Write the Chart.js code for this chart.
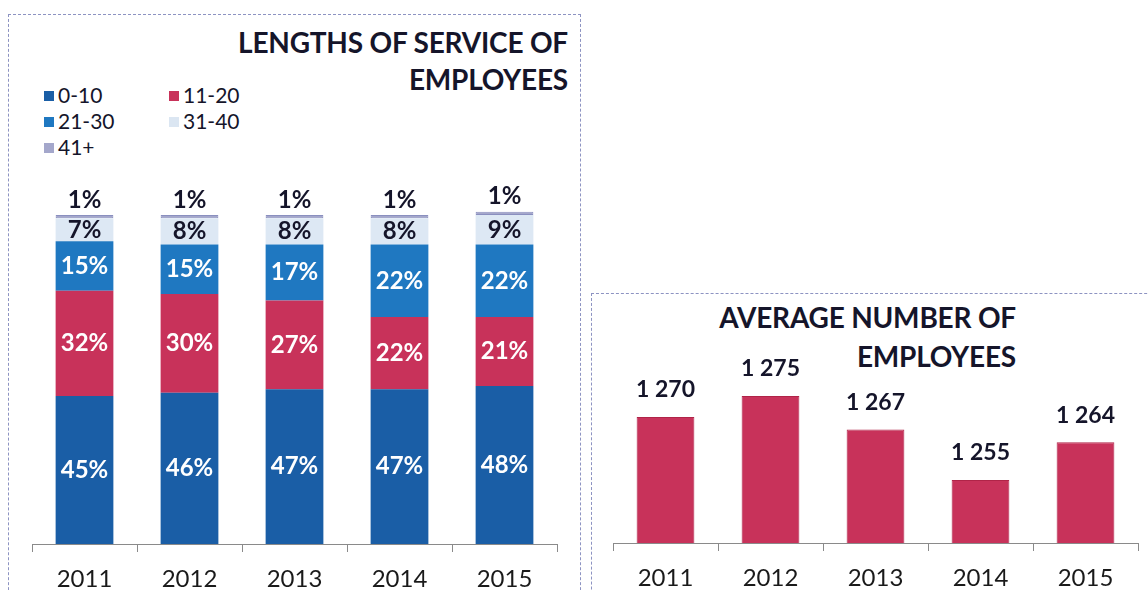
<!DOCTYPE html>
<html><head><meta charset="utf-8">
<script src="https://cdn.jsdelivr.net/npm/chart.js@4.4.0/dist/chart.umd.min.js"></script>
<style>
html,body{margin:0;padding:0;background:#fff;width:1148px;height:590px;overflow:hidden;font-family:Lato,sans-serif;}
.box{position:absolute;border-left:1px dashed #8d93c2;border-top:1px dashed #8d93c2;}
#boxL{left:8px;top:14px;width:571px;height:620px;border-right:1px dashed #8d93c2;}
#boxR{left:591px;top:293px;width:600px;height:400px;}
.title{position:absolute;font-weight:700;font-size:28px;color:#15152a;text-align:right;white-space:nowrap;letter-spacing:-0.2px;}
#titleL{right:580px;top:24px;line-height:37px;}
#titleR{right:132px;top:298px;line-height:39px;}
#legend{position:absolute;left:0;top:0;}
.li{position:absolute;font-size:21px;color:#15152a;line-height:24px;white-space:nowrap;}
.li span{display:inline-block;width:10px;height:10px;margin-right:4px;vertical-align:middle;position:relative;top:-2px;}
canvas{position:absolute;}
#cL{left:0;top:0;}
#cR{left:590px;top:290px;}
</style></head>
<body>
<div class="box" id="boxL"></div>
<div class="box" id="boxR"></div>
<div class="title" id="titleL">LENGTHS OF SERVICE OF<br>EMPLOYEES</div>
<div class="title" id="titleR">AVERAGE NUMBER OF<br>EMPLOYEES</div>
<div id="legend"></div>
<canvas id="cL" width="590" height="590"></canvas>
<canvas id="cR" width="558" height="300"></canvas>
<script>
// ---- data ----
const years = ['2011','2012','2013','2014','2015'];
const seriesLabels = ['0-10','11-20','21-30','31-40','41+'];
const s0_10  = [45,46,47,47,48];
const s11_20 = [32,30,27,22,21];
const s21_30 = [15,15,17,22,22];
const s31_40 = [7,8,8,8,9];
const s41    = [1,1,1,1,1];
const avgEmployees = [1270,1275,1267,1255,1264];

// ---- styles ----
const seriesColors = ['#1a5ea6','#c8325a','#1f78c1','#dde8f4','#a4a7cb'];
const labelColors  = ['#ffffff','#ffffff','#ffffff','#15152a','#15152a'];
const FONT = 'Lato';

// legend (HTML, generated from series)
const legendPos = [[44,83],[169,83],[44,109],[169,109],[44,135]];
const lg = document.getElementById('legend');
seriesLabels.forEach((lab,i)=>{
  const d=document.createElement('div');d.className='li';
  d.style.left=legendPos[i][0]+'px';d.style.top=legendPos[i][1]+'px';
  const sq=document.createElement('span');sq.style.background=seriesColors[i];
  if(i===3) sq.style.background='#dbe6f2';
  d.appendChild(sq);d.appendChild(document.createTextNode(lab));lg.appendChild(d);
});

const barLabels = {
  id:'barLabels',
  afterDatasetsDraw(chart,args,opts){
    const ctx=chart.ctx;ctx.save();
    ctx.font='700 '+opts.size+'px '+FONT;
    ctx.textAlign='center';ctx.textBaseline='middle';
    const n=chart.data.datasets.length;
    chart.data.datasets.forEach((ds,di)=>{
      const meta=chart.getDatasetMeta(di);
      meta.data.forEach((bar,i)=>{
        const v=ds.data[i];
        let y;
        if(opts.stacked && di<n-1) y=(bar.y+bar.base)/2;
        else y=bar.y-opts.above;
        ctx.fillStyle=opts.colors[di];
        ctx.fillText(opts.format(v),bar.x,y);
      });
    });
    ctx.restore();
  }
};

const xAxis = (h)=>({
  grid:{display:true,offset:true,drawOnChartArea:false,drawTicks:true,tickLength:8,color:'#8a8a8a',lineWidth:1},
  border:{display:true,color:'#8a8a8a',width:1},
  ticks:{padding:13,font:{family:FONT,size:24},color:'#1a1a1a'},
  afterFit(s){s.height=h;}
});

const seriesData=[s0_10,s11_20,s21_30,s31_40,s41];
new Chart(document.getElementById('cL'),{
  type:'bar',
  data:{labels:years,datasets:seriesData.map((d,i)=>({
    label:seriesLabels[i],data:d,backgroundColor:seriesColors[i],
    borderColor:i===4?'#8a8fbf':seriesColors[i],borderWidth:i===4?1:0,borderSkipped:false,
    barPercentage:0.55,categoryPercentage:1,clip:false}))},
  options:{responsive:false,animation:false,
    layout:{padding:{left:32,right:33,top:215,bottom:0}},
    scales:{x:Object.assign({stacked:true},xAxis(46)),
            y:{stacked:true,display:false,min:0,max:100}},
    plugins:{legend:{display:false},tooltip:{enabled:false},
      barLabels:{stacked:true,size:24,above:15,colors:labelColors,format:v=>v+'%'}}},
  plugins:[barLabels]
});

new Chart(document.getElementById('cR'),{
  type:'bar',
  data:{labels:years,datasets:[{label:'Average number of employees',data:avgEmployees,
    backgroundColor:'#c8325a',borderColor:'#b02448',borderWidth:1,
    barPercentage:0.55,categoryPercentage:1}]},
  options:{responsive:false,animation:false,
    layout:{padding:{left:23,right:10,top:85,bottom:0}},
    scales:{x:xAxis(47),y:{display:false,min:1240,max:1280}},
    plugins:{legend:{display:false},tooltip:{enabled:false},
      barLabels:{stacked:false,size:23,above:27,colors:['#15152a'],
        format:v=>String(v).replace(/\B(?=(\d{3})+(?!\d))/g,' ')}}},
  plugins:[barLabels]
});
</script>
</body></html>
